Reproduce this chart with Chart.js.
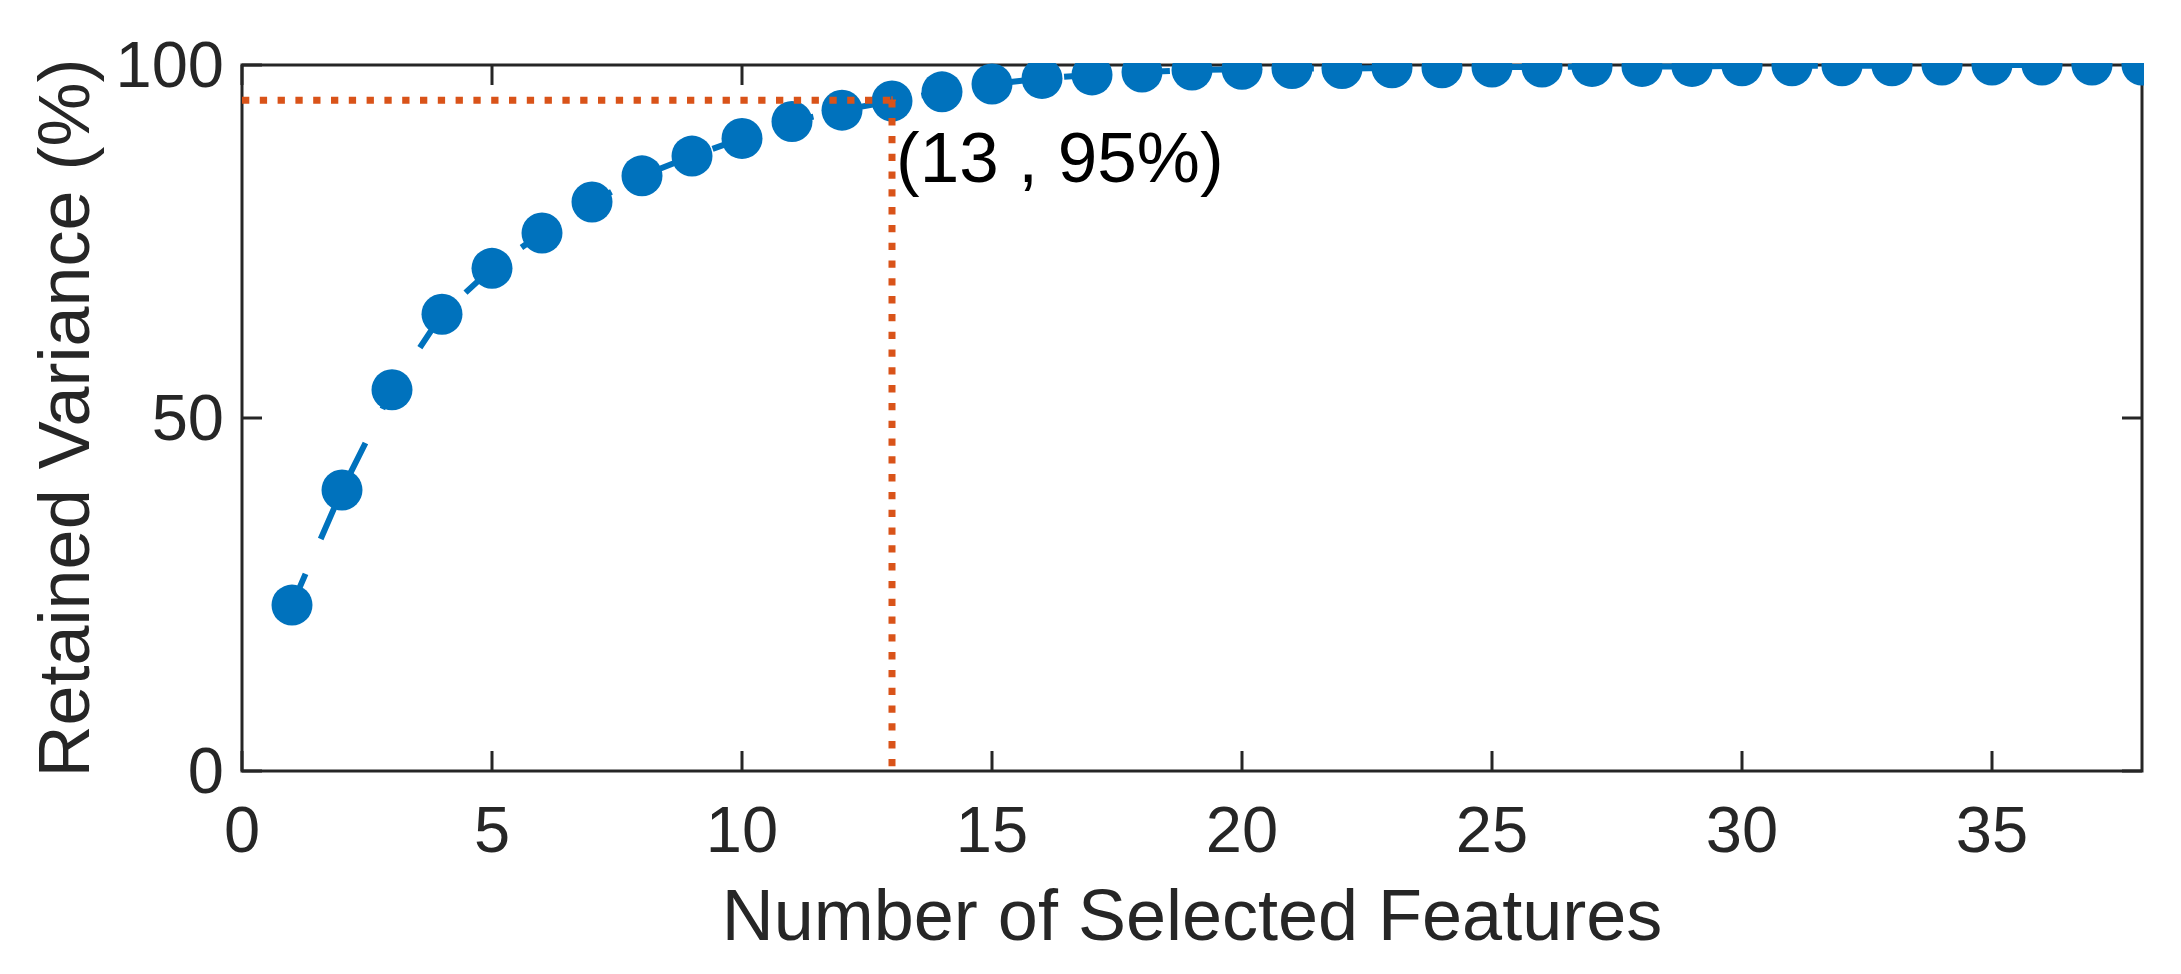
<!DOCTYPE html>
<html lang="en">

<head>
    <meta charset="UTF-8">
    <title>Retained Variance</title>
    <style>
        body {
            margin: 0;
            padding: 0;
            background-color: white;
        }

        #varianceChart {
            display: block;
        }
    </style>
</head>

<body>
    <canvas id="varianceChart" width="2181" height="974"></canvas>

    <script src="https://cdn.jsdelivr.net/npm/chart.js@4"></script>
    <script>
        // Data
        const featureCounts = [1, 2, 3, 4, 5, 6, 7, 8, 9, 10, 11, 12, 13, 14, 15, 16, 17, 18, 19,
            20, 21, 22, 23, 24, 25, 26, 27, 28, 29, 30, 31, 32, 33, 34, 35, 36, 37, 38];
        const retainedVariance = [23.5, 39.8, 54.0, 64.7, 71.2, 76.2, 80.6, 84.3, 87.1, 89.6,
            92.0, 93.6, 94.9, 96.2, 97.3, 98.1, 98.6, 99.0, 99.3, 99.4,
            99.5, 99.5, 99.6, 99.6, 99.7, 99.7, 99.8, 99.8, 99.8, 99.9,
            99.9, 99.9, 99.9, 100, 100, 100, 100, 100];
        const xTickValues = [0, 5, 10, 15, 20, 25, 30, 35];
        const yTickValues = [0, 50, 100];
        const cutoffFeatures = 13;
        const cutoffVariance = 95;
        const cutoffText = '(13 , 95%)';
        const cutoffTextY = 83.4;

        const blue = '#0072BD';
        const orange = '#D95319';
        const axisColor = '#262626';
        const fontFamily = '"Liberation Sans", Arial, sans-serif';

        const points = featureCounts.map((f, i) => ({ x: f, y: retainedVariance[i] }));

        // MATLAB style box with inward ticks, marker clipping and the text label
        const matlabAxes = {
            id: 'matlabAxes',
            beforeDatasetsDraw(chart) {
                const { ctx, chartArea: a, scales: { x, y } } = chart;
                ctx.save();
                ctx.strokeStyle = axisColor;
                ctx.lineWidth = 3;
                ctx.strokeRect(a.left, a.top, a.right - a.left, a.bottom - a.top);
                ctx.beginPath();
                xTickValues.forEach(v => {
                    const px = x.getPixelForValue(v);
                    ctx.moveTo(px, a.bottom);
                    ctx.lineTo(px, a.bottom - 20);
                    ctx.moveTo(px, a.top);
                    ctx.lineTo(px, a.top + 20);
                });
                yTickValues.forEach(v => {
                    const py = y.getPixelForValue(v);
                    ctx.moveTo(a.left, py);
                    ctx.lineTo(a.left + 20, py);
                    ctx.moveTo(a.right, py);
                    ctx.lineTo(a.right - 20, py);
                });
                ctx.stroke();
                ctx.restore();
            },
            beforeDatasetDraw(chart, args) {
                if (args.index !== 2) return;
                const { ctx, chartArea: a } = chart;
                ctx.save();
                ctx.beginPath();
                ctx.rect(a.left - 2, a.top - 2, a.right - a.left + 4, a.bottom - a.top + 4);
                ctx.clip();
            },
            afterDatasetDraw(chart, args) {
                if (args.index !== 2) return;
                chart.ctx.restore();
            },
            afterDatasetsDraw(chart) {
                const { ctx, scales: { x, y } } = chart;
                ctx.save();
                ctx.fillStyle = '#000000';
                ctx.font = '71px ' + fontFamily;
                ctx.textAlign = 'left';
                ctx.textBaseline = 'alphabetic';
                ctx.fillText(cutoffText, x.getPixelForValue(cutoffFeatures) + 4, y.getPixelForValue(cutoffTextY));
                ctx.restore();
            }
        };

        const tickFont = { family: fontFamily, size: 65, lineHeight: 1.2 };
        const titleFont = { family: fontFamily, size: 72, lineHeight: 1.2 };

        const ctx = document.getElementById('varianceChart').getContext('2d');

        let chart = new Chart(ctx, {
            type: 'line',
            data: {
                datasets: [
                    {
                        label: 'Cutoff horizontal',
                        data: [{ x: 0, y: cutoffVariance }, { x: cutoffFeatures, y: cutoffVariance }],
                        borderColor: orange,
                        borderWidth: 7,
                        borderDash: [7.3, 10.5],
                        borderCapStyle: 'butt',
                        pointRadius: [0, 4],
                        pointStyle: 'cross',
                        pointBorderColor: orange,
                        pointBorderWidth: 1.5,
                        fill: false,
                        order: 0
                    },
                    {
                        label: 'Cutoff vertical',
                        data: [{ x: cutoffFeatures, y: cutoffVariance }, { x: cutoffFeatures, y: 0 }],
                        borderColor: orange,
                        borderWidth: 7,
                        borderDash: [7.3, 10.5],
                        borderCapStyle: 'butt',
                        pointRadius: 0,
                        fill: false,
                        order: 0
                    },
                    {
                        label: 'Retained Variance',
                        data: points,
                        borderColor: blue,
                        borderWidth: 6,
                        borderDash: [34, 38],
                        borderCapStyle: 'butt',
                        pointRadius: 20.5,
                        pointBackgroundColor: blue,
                        pointBorderWidth: 0,
                        tension: 0,
                        fill: false,
                        clip: 2,
                        order: 1
                    }
                ]
            },
            options: {
                responsive: false,
                animation: false,
                devicePixelRatio: 1,
                layout: {
                    padding: { top: 65, right: 39, left: 0, bottom: 0 }
                },
                plugins: {
                    legend: { display: false },
                    tooltip: { enabled: false }
                },
                scales: {
                    x: {
                        type: 'linear',
                        min: 0,
                        max: 38,
                        grid: { display: false, drawTicks: false },
                        border: { display: false },
                        afterBuildTicks: scale => {
                            scale.ticks = xTickValues.map(v => ({ value: v }));
                        },
                        afterFit: scale => {
                            scale.height = 203;
                        },
                        ticks: {
                            color: axisColor,
                            font: tickFont,
                            padding: 24,
                            maxRotation: 0
                        },
                        title: {
                            display: true,
                            text: 'Number of Selected Features',
                            color: axisColor,
                            font: titleFont,
                            padding: { top: 0, bottom: 11 }
                        }
                    },
                    y: {
                        type: 'linear',
                        min: 0,
                        max: 100,
                        grid: { display: false, drawTicks: false },
                        border: { display: false },
                        afterBuildTicks: scale => {
                            scale.ticks = yTickValues.map(v => ({ value: v }));
                        },
                        afterFit: scale => {
                            scale.width = 242;
                        },
                        ticks: {
                            color: axisColor,
                            font: tickFont,
                            padding: 18,
                            labelOffset: 4
                        },
                        title: {
                            display: true,
                            text: 'Retained Variance (%)',
                            color: axisColor,
                            font: titleFont,
                            padding: { top: 26, bottom: 0 }
                        }
                    }
                }
            },
            plugins: [matlabAxes]
        });
    </script>
</body>

</html>
